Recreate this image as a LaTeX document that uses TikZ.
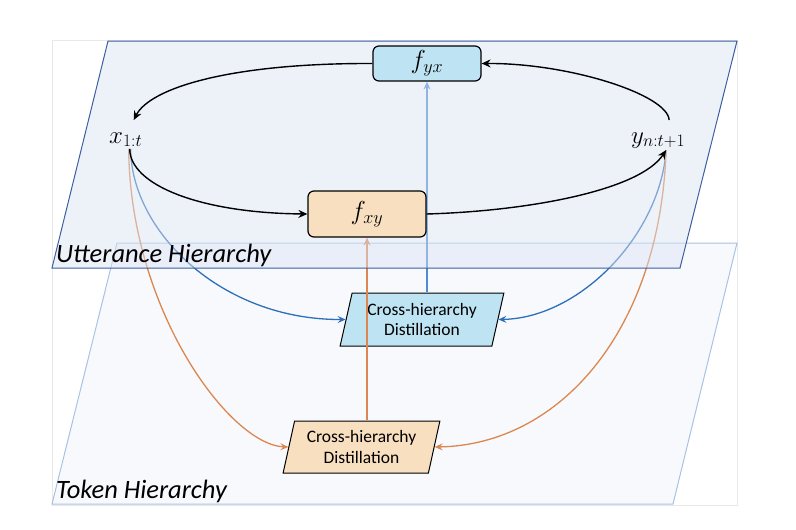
\documentclass[tikz,border=0pt]{standalone}
\usepackage{fix-cm}
\usepackage{fontspec}
\newfontfamily\carl{Carlito}
\usetikzlibrary{arrows.meta,shapes.geometric,calc}
\definecolor{uttfill}{HTML}{DAE3F3}
\definecolor{uttdraw}{HTML}{3C5FA0}
\definecolor{tokfill}{HTML}{F8F9FD}
\definecolor{tokdraw}{HTML}{A9C2E2}
\definecolor{boxblue}{HTML}{BEE3F3}
\definecolor{boxpeach}{HTML}{F8DFC0}
\definecolor{arrblue}{HTML}{2E6FBA}
\definecolor{arrbluelight}{HTML}{4E8BD0}
\definecolor{arrorange}{HTML}{DC8650}
\pgfdeclarelayer{bg}
\pgfdeclarelayer{arr}
\pgfdeclarelayer{utt}
\pgfsetlayers{bg,arr,utt,main}
\begin{document}
\begin{tikzpicture}[x=1pt,y=-1pt,
  fbox/.style={draw=black,line width=1.2pt,rounded corners=6pt,inner sep=0pt,font=\fontsize{26}{30}\selectfont},
  dbox/.style={trapezium,trapezium left angle=74,trapezium right angle=106,trapezium stretches=true,
    draw=black,line width=1pt,inner sep=0pt,align=center,font=\carl\fontsize{17.5}{20.5}\selectfont},
  lbl/.style={inner sep=2pt,anchor=base west,font=\fontsize{25}{30}\selectfont},
  blk/.style={draw=black,line width=1.4pt,-{Stealth[length=9pt,width=8pt,inset=3pt]}},
  carr/.style={line width=1.3pt,-{Stealth[length=8pt,width=7pt,inset=3pt]}},
  planelbl/.style={font=\carl\itshape\fontsize{26.5}{30}\selectfont,inner sep=0pt,anchor=base west}]
\useasboundingbox (0,0) rectangle (796,530);
\begin{pgfonlayer}{bg}
  \draw[draw=black!9,line width=0.8pt] (52,40) rectangle (737,505);
  \draw[fill=tokfill,draw=tokdraw,line width=1pt] (117,243) -- (737,243) -- (673,504) -- (52,504) -- cycle;
\end{pgfonlayer}
\begin{pgfonlayer}{utt}
  \fill[uttfill,fill opacity=0.48] (108,41) -- (737,41) -- (680,268) -- (52,268) -- cycle;
  \draw[uttdraw,line width=1pt] (108,41) -- (737,41) -- (680,268) -- (52,268) -- cycle;
\end{pgfonlayer}
\node[planelbl] (uh) at (56,262) {Utterance Hierarchy};
\node[planelbl] (th) at (56,498) {Token Hierarchy};
\node[fbox,fill=boxblue,minimum width=108pt,minimum height=35pt] (fyx) at (427,63.5) {$f_{yx}$};
\node[fbox,fill=boxpeach,minimum width=118pt,minimum height=46pt] (fxy) at (367,214) {$f_{xy}$};
\node[lbl] (x) at (107,143) {$x_{1:t}$};
\node[lbl] (y) at (629,143) {$y_{n:t+1}$};
\node[dbox,fill=boxpeach,minimum width=157pt,minimum height=52pt] (co) at (361.5,447) {Cross-hierarchy\\Distillation};
\draw[blk] ([xshift=4pt]x.south) .. controls (130,185) and (200,213) .. (fxy.west);
\draw[blk] (fxy.east) .. controls (530,211) and (640,190) .. ([xshift=8pt]y.south);
\draw[blk] ([xshift=11pt,yshift=10pt]y.north) .. controls (668,95) and (570,63) .. (fyx.east);
\draw[blk] (fyx.west) .. controls (230,63) and (150,88) .. ([xshift=8pt,yshift=10pt]x.north);
\begin{pgfonlayer}{arr}
  \node[dbox,fill=boxblue,minimum width=164pt,minimum height=53pt] (cb) at (422,319.5) {Cross-hierarchy\\Distillation};
  \draw[carr,arrblue] ([xshift=5pt]x.south) .. controls (131,230) and (220,320) .. (cb.west);
  \draw[carr,arrorange] ([xshift=3pt]x.south) .. controls (130,310) and (230,445) .. (co.west);
  \draw[carr,arrblue] ([xshift=8pt]y.south) .. controls (660,235) and (580,318) .. (cb.east);
  \draw[carr,arrorange] ([xshift=8pt]y.south) .. controls (660,330) and (560,445) .. (co.east);
  \draw[carr,arrbluelight] (cb.north -| fyx.south) -- (fyx.south);
  \draw[carr,arrorange] (co.north -| fxy.south) -- (fxy.south);
\end{pgfonlayer}
\end{tikzpicture}
\end{document}
